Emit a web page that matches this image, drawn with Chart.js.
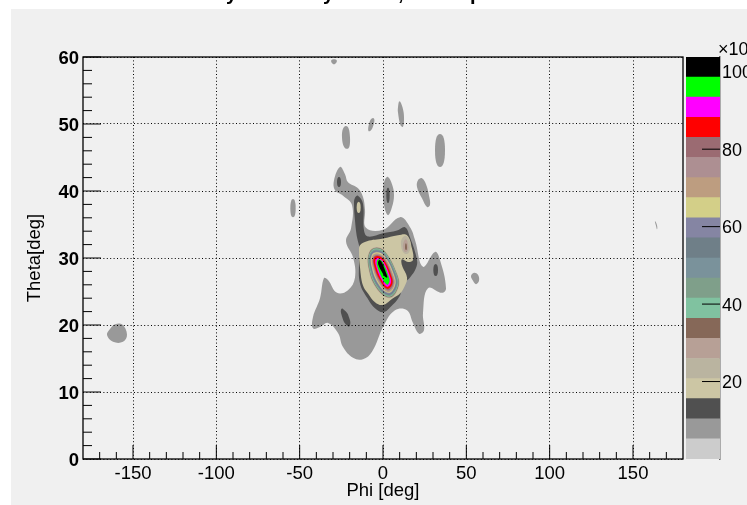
<!DOCTYPE html>
<html>
<head>
<meta charset="utf-8">
<script src="https://cdn.jsdelivr.net/npm/chart.js@4"></script>
<style>
  html, body { margin: 0; padding: 0; background: #fff; overflow: hidden; }
  #pane { position: absolute; left: 11px; top: 9px; width: 736px; height: 496px; background: #f0f0f0; }
  canvas { position: absolute; }
  #main { left: 0; top: 0; }
  #bar { left: 686px; top: 0; }
  .t { position: absolute; top: -17px; font: bold 20px "Liberation Sans", sans-serif; color: #000; line-height: 20px; }
  #exp { position: absolute; left: 718px; top: 39px; font: 18px "Liberation Sans", sans-serif; color: #000; white-space: nowrap; }
</style>
</head>
<body>
<div id="pane"></div>
<canvas id="main" width="747" height="505"></canvas>
<canvas id="bar" width="61" height="505"></canvas>
<span class="t" style="left:226px">y</span>
<span class="t" style="left:323px">y</span>
<span class="t" style="left:398px">,</span>
<span class="t" style="left:470px">p</span>
<span id="exp">×10</span>
<script>
// axis ticks
const xTicks = [-150, -100, -50, 0, 50, 100, 150];
const xMinor = [-170, -160, -140, -130, -120, -110, -90, -80, -70, -60, -40, -30, -20, -10, 10, 20, 30, 40, 60, 70, 80, 90, 110, 120, 130, 140, 160, 170];
const yTicks = [0, 10, 20, 30, 40, 50, 60];
const yMinor = [2, 4, 6, 8, 12, 14, 16, 18, 22, 24, 26, 28, 32, 34, 36, 38, 42, 44, 46, 48, 52, 54, 56, 58];
const barTicks = [20, 40, 60, 80, 100];

// palette levels, bottom to top of the colour bar
const levelEdges = [0, 5.19, 10.38, 15.57, 20.76, 25.95, 31.14, 36.33, 41.52, 46.71, 51.9, 57.09, 62.28, 67.47, 72.66, 77.85, 83.04, 88.23, 93.42, 98.61, 103.8];
const levelColors = ['#cccccc', '#999999', '#505050', '#ccc6a4', '#bab4a0', '#b7a096', '#866858', '#80c2a0', '#7f9f8a', '#7a929b', '#6f7f88', '#8585a3', '#d3cf88', '#bd9d80', '#ad8f92', '#9b6b72', '#ff0000', '#ff00ff', '#00ff00', '#000000'];

// contours, [phi, theta]
const grayMain = [[-25.8,43.6],[-22.8,42.5],[-21,41.3],[-15,40.4],[-12,39.1],[-10.8,37.2],[-10.2,34.5],[0,34.2],[10.2,36.1],[16.2,34.6],[19.2,32.7],[24,28.7],[31.2,30.9],[34.2,29.7],[37.8,25.5],[35.4,24.8],[27,25.5],[24,21.8],[24.6,19.2],[21.6,18.7],[18,20.3],[14.4,22.2],[7.2,22.2],[0.6,20],[-6.6,16],[-12,14.9],[-18,15.1],[-24,16.7],[-27,18.8],[-33,20.3],[-37.8,19.7],[-42,19.5],[-42,21.2],[-37.8,24],[-35.4,27],[-33,26.7],[-27.6,24.8],[-21,25.2],[-16.8,27.1],[-18,30.1],[-22.2,32.5],[-19.2,34.4],[-18.6,37.9],[-24,39.3],[-28.8,40.1],[-29.4,41.6]];
const grayLeft = [[-160.8,20.1],[-156.6,20.1],[-153.6,18.6],[-156,17.5],[-162,17.5],[-165.6,18.5],[-163.8,19.4]];
const grayTop = [[-31,59.5],[-27.8,59.5],[-29.4,58.9]];
const grayA = [[9.9,53.4],[11.7,52.5],[12.6,51],[12,49.6],[10.5,49.8],[9,51.7],[9,52.5]];
const grayB = [[-6,50.9],[-5.4,50.1],[-8.2,48.9],[-8.4,50]];
const grayC = [[-22.2,49.7],[-19.8,48],[-21.6,46.3],[-24.6,48]];
const grayD = [[34.2,48.5],[37.2,46.1],[34.2,43.6],[31.2,46.1]];
const grayE = [[3,42.1],[1.2,41.7],[0,40.2],[0.6,37.9],[3,36.4],[5.4,37.6],[6.6,39.4],[5.4,41]];
const grayF = [[23.4,41.9],[25.8,41],[27.6,39.3],[28.2,37.9],[26.4,37.6],[23.4,38.9],[20.4,40.6],[21,41.6]];
const grayG = [[-54,38.8],[-52.4,37.4],[-54,36.1],[-55.6,37.4]];
const grayH = [[54.6,27.8],[57,27.5],[57.6,26.6],[55.8,26.1],[54,26.6],[52.8,27.3]];
const grayI = [[163.2,35.5],[164.4,34.9],[164.4,34.3],[163.8,34.8]];

const darkMain = [[-15,39.3],[-12,38.1],[-11.4,34.1],[-9,33.2],[0,33.7],[8.4,34.1],[13.2,34.6],[16.2,33.1],[20.4,29.7],[19.8,28.5],[16.2,27.1],[11.4,25.9],[10.2,24.4],[4.2,22.6],[0,21.9],[-4.8,22.5],[-9.6,24.1],[-13.8,26.2],[-14.4,29.2],[-13.8,31.1],[-15.6,33.1],[-16.8,35.6],[-17.4,38.1],[-16.8,39]];
const darkA = [[-26.4,42.1],[-25.2,41.3],[-26.4,40.6],[-27.6,41.3]];
const darkB = [[31.6,29.1],[33,28.2],[31.6,27.3],[30.2,28.2]];
const darkC = [[-24,22.4],[-19.8,20.7],[-21,19.8],[-25.2,21.8]];
const darkD = [[3,40.5],[4,39.4],[3,38.2],[2,39.4]];

const beigeMain = [[-13.8,31.9],[-9.6,32.5],[0,32.9],[9,33.4],[14.4,33.4],[17.4,31.4],[18,29.7],[15,29.4],[11.4,29.8],[11.4,28.9],[14.4,27.1],[13.2,25.9],[10.2,24.7],[6,24],[0,23],[-4.8,23.4],[-9,24.7],[-12,25.9],[-13.8,28.6],[-14.4,31.1]];
const beigeStem = [[-14.6,38.4],[-13.4,37.5],[-14.6,36.7],[-15.8,37.5]];

const lobe5 = [[13.8,33.3],[16.2,32.5],[16.2,31.2],[14.4,30.6],[12,30.9],[10.8,32],[11.4,32.9]];
const lobe6 = [[13.8,32.8],[15,32.1],[15,31.2],[13.2,30.9],[12,31.6],[12.6,32.5]];
const lobe7 = [[13.8,32.2],[14.4,31.5],[13.8,31.2],[13.2,31.6]];

const ring5 = [[-4.2,31.65],[1.2,31.05],[8.4,27.77],[9.6,25.8],[4.2,24],[-4.2,25.5],[-9,28.7],[-8.4,30.9]];
const ring6 = [[-4.15,31.58],[1.18,30.98],[8.23,27.75],[9.41,25.81],[4.13,24.06],[-4.08,25.56],[-8.83,28.71],[-8.26,30.86]];
const ring7 = [[-4.1,31.52],[1.15,30.92],[8.06,27.72],[9.22,25.82],[4.06,24.13],[-3.96,25.61],[-8.66,28.72],[-8.11,30.82]];
const ring8 = [[-4.04,31.44],[1.12,30.84],[7.95,27.7],[8.98,25.83],[3.97,24.21],[-3.81,25.68],[-8.45,28.74],[-7.93,30.77]];
const ring9 = [[-3.96,31.32],[1.08,30.72],[7.75,27.66],[8.7,25.84],[3.87,24.32],[-3.66,25.78],[-8.16,28.76],[-7.7,30.7]];
const ring10 = [[-3.9,31.2],[1.06,30.6],[7.5,27.6],[8.35,25.86],[3.75,24.42],[-3.5,25.85],[-7.85,28.78],[-7.5,30.64]];
const ring11 = [[-3.8,31.1],[1.03,30.5],[7.25,27.55],[8,25.87],[3.6,24.52],[-3.3,25.95],[-7.55,28.8],[-7.25,30.56]];
const ring12 = [[-3.7,31],[1,30.4],[7,27.5],[7.6,25.88],[3.5,24.65],[-3.1,26.05],[-7.2,28.83],[-7,30.5]];
const ring13 = [[-3.6,30.85],[0.95,30.25],[6.7,27.4],[7.2,25.9],[3.3,24.8],[-2.9,26.2],[-6.9,28.85],[-6.7,30.4]];
const ring14 = [[-3.5,30.7],[0.9,30.1],[6.4,27.3],[6.8,25.9],[3.1,24.9],[-2.6,26.3],[-6.5,28.9],[-6.4,30.3]];
const ring15 = [[-3.4,30.55],[0.85,29.95],[6.1,27.2],[6.4,25.9],[2.9,25.05],[-2.4,26.4],[-6.1,28.95],[-6.1,30.2]];
const ring16 = [[-3.3,30.45],[0.8,29.85],[5.8,27.1],[6,25.95],[2.7,25.2],[-2.1,26.55],[-5.8,28.95],[-5.8,30.1]];
const ring17 = [[-3,30.3],[0.6,29.7],[5.4,27],[5.4,26],[2.4,25.4],[-1.8,26.7],[-5.4,29],[-5.4,30]];
const ring18 = [[-2.8,30],[0.2,29.5],[4.5,27],[4.6,26.2],[2.4,25.7],[-1.2,26.9],[-4.4,29],[-4.4,29.8]];
const ring19 = [[-2.4,29.8],[-0.2,29.4],[3.6,27.1],[3.8,26.4],[2.4,26],[-0.6,27],[-3.6,28.9],[-3.6,29.6]];
const ring20 = [[-2,29.7],[-0.6,29.3],[1.8,27.8],[2.6,27.1],[1.2,27.2],[-0.8,28],[-2.8,29],[-2.8,29.5]];

// [index into levelColors, contour], painted in this order
const contours = [
  [1, grayMain], [1, grayLeft], [1, grayTop], [1, grayA], [1, grayB], [1, grayC], [1, grayD], [1, grayE], [1, grayF], [1, grayG], [1, grayH], [1, grayI],
  [2, darkMain], [2, darkA], [2, darkB], [2, darkC], [2, darkD],
  [3, beigeMain], [3, beigeStem],
  [4, lobe5], [5, lobe6], [6, lobe7],
  [4, ring5], [5, ring6], [6, ring7], [7, ring8], [8, ring9], [9, ring10], [10, ring11], [11, ring12], [12, ring13], [13, ring14], [14, ring15], [15, ring16], [16, ring17], [17, ring18], [18, ring19], [19, ring20]
];

const font = { family: '"Liberation Sans", sans-serif', size: 18.5 };

// same trick the radar controller uses, so the contour curves close smoothly
const closedLines = {
  id: 'closedLines',
  afterDatasetUpdate(chart, args) {
    const line = args.meta.dataset;
    line._loop = true;
    line._segments = undefined;
    line._path = undefined;
    line._pointsUpdated = false;
  }
};

// ROOT style ticks point into the frame, and the frame is closed on all sides
const frameTicks = {
  id: 'frameTicks',
  afterDraw(chart) {
    const { ctx, chartArea: a, scales } = chart;
    ctx.save();
    ctx.strokeStyle = '#000';
    ctx.lineWidth = 1;
    ctx.beginPath();
    xTicks.forEach(v => { const p = scales.x.getPixelForValue(v); ctx.moveTo(p, a.bottom); ctx.lineTo(p, a.bottom - 14); });
    xMinor.forEach(v => { const p = scales.x.getPixelForValue(v); ctx.moveTo(p, a.bottom); ctx.lineTo(p, a.bottom - 7); });
    yTicks.forEach(v => { const p = scales.y.getPixelForValue(v); ctx.moveTo(a.left, p); ctx.lineTo(a.left + 18, p); });
    yMinor.forEach(v => { const p = scales.y.getPixelForValue(v); ctx.moveTo(a.left, p); ctx.lineTo(a.left + 9, p); });
    ctx.stroke();
    ctx.lineWidth = 1.3;
    ctx.strokeRect(a.left, a.top, a.right - a.left, a.bottom - a.top);
    ctx.restore();
  }
};

new Chart(document.getElementById('main'), {
  type: 'scatter',
  data: {
    datasets: contours.map((c, i) => ({
      data: c[1].map(p => ({ x: p[0], y: p[1] })),
      showLine: true,
      spanGaps: true,
      fill: 'shape',
      backgroundColor: levelColors[c[0]],
      borderWidth: 0,
      pointRadius: 0,
      // the four point spots need a rounder curve or they come out as diamonds
      tension: c[1].length < 6 ? 0.65 : 0.4,
      order: contours.length - i
    }))
  },
  options: {
    responsive: false,
    animation: false,
    events: [],
    layout: { padding: { left: 0, top: 57, right: 64, bottom: 0 } },
    plugins: { legend: { display: false }, tooltip: { enabled: false } },
    scales: {
      x: {
        type: 'linear', min: -180, max: 180,
        afterBuildTicks: s => { s.ticks = xTicks.map(v => ({ value: v })); },
        afterFit: s => { s.height = 46; },
        grid: { color: '#000', lineWidth: 1, drawTicks: false, z: 1 },
        border: { display: false, dash: [1, 2.4] },
        ticks: { color: '#000', font, padding: 4, maxRotation: 0, autoSkip: false, callback: v => String(v) },
        title: { display: true, text: 'Phi [deg]', color: '#000', font, padding: { top: 0, bottom: 3 } }
      },
      y: {
        type: 'linear', min: 0, max: 60,
        afterBuildTicks: s => { s.ticks = yTicks.map(v => ({ value: v })); },
        afterFit: s => { s.width = 83; },
        grid: { color: '#000', lineWidth: 1, drawTicks: false, z: 1 },
        border: { display: false, dash: [1, 2.4] },
        ticks: { color: '#000', font: { family: font.family, size: 18.5, weight: 'bold' }, padding: 4, labelOffset: 1.5, autoSkip: false, callback: v => String(v) },
        title: { display: true, text: 'Theta[deg]', color: '#000', font, padding: { top: 24, bottom: 0 } }
      }
    }
  },
  plugins: [closedLines, frameTicks]
});

const barMarks = {
  id: 'barMarks',
  afterDraw(chart) {
    const { ctx, chartArea: a, scales } = chart;
    ctx.save();
    ctx.strokeStyle = '#000';
    ctx.lineWidth = 1;
    ctx.beginPath();
    barTicks.forEach(v => { const p = scales.y.getPixelForValue(v); ctx.moveTo(a.right, p); ctx.lineTo(a.right - 18, p); });
    ctx.stroke();
    ctx.restore();
  }
};

new Chart(document.getElementById('bar'), {
  type: 'bar',
  data: {
    labels: [''],
    datasets: levelColors.map((c, i) => ({
      data: [[levelEdges[i], levelEdges[i + 1]]],
      backgroundColor: c,
      borderWidth: 0,
      barPercentage: 1,
      categoryPercentage: 1,
      grouped: false
    }))
  },
  options: {
    responsive: false,
    animation: false,
    events: [],
    layout: { padding: { left: 0, top: 57, right: 0, bottom: 46 } },
    plugins: { legend: { display: false }, tooltip: { enabled: false } },
    scales: {
      x: { display: false },
      y: {
        type: 'linear', position: 'right', min: 0, max: 103.8,
        afterBuildTicks: s => { s.ticks = barTicks.map(v => ({ value: v })); },
        afterFit: s => { s.width = 27; },
        grid: { display: false, drawTicks: false },
        border: { color: '#666', width: 1.5 },
        ticks: { color: '#000', font: { family: font.family, size: 18 }, padding: 2, labelOffset: 1.5, autoSkip: false, callback: v => String(v) }
      }
    }
  },
  plugins: [barMarks]
});
</script>
</body>
</html>
